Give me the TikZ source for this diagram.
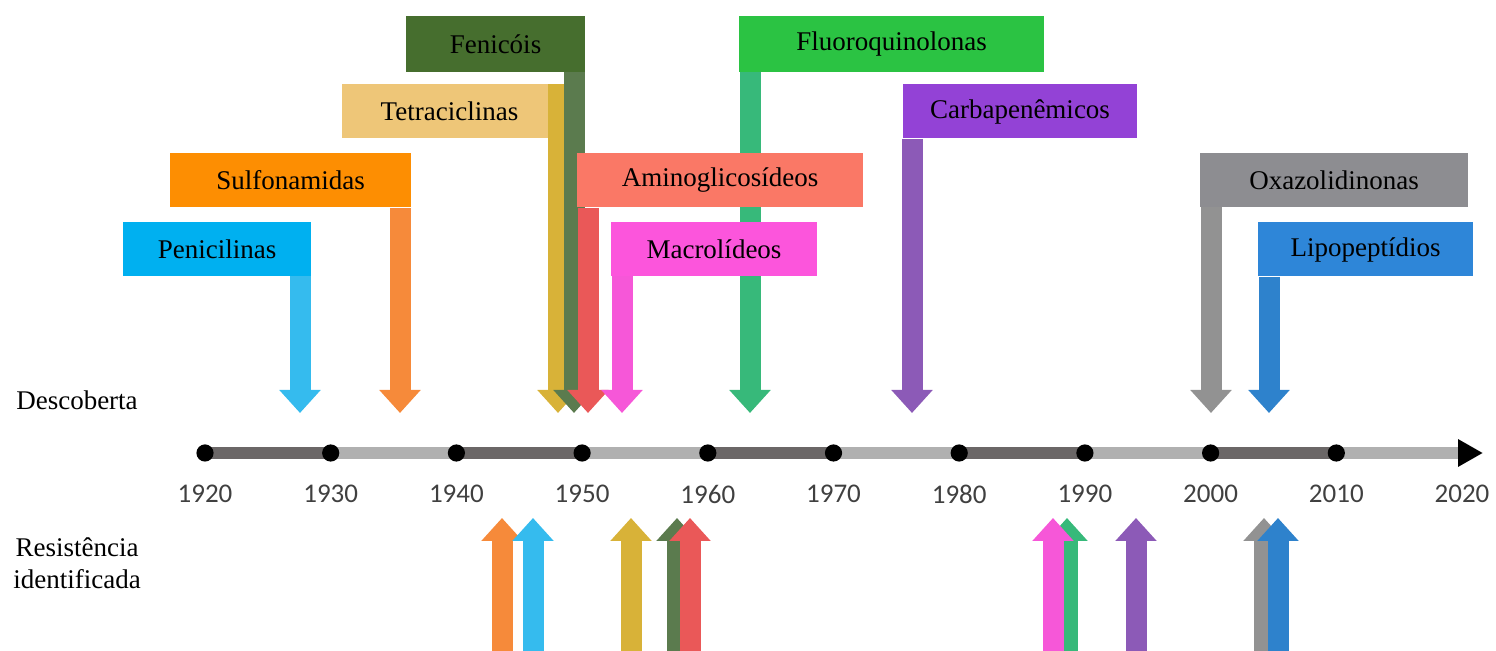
\documentclass[tikz,border=0pt]{standalone}
\usepackage{fontspec}
\setmainfont{Liberation Serif}
\newfontfamily\anofont{Carlito}
\usetikzlibrary{arrows.meta}

% cores: caixa (B) e seta (S)
\definecolor{penB}{HTML}{00B0F0}\definecolor{penS}{HTML}{35BBEE}
\definecolor{sulB}{HTML}{FD8E02}\definecolor{sulS}{HTML}{F68A3A}
\definecolor{tetB}{HTML}{EEC678}\definecolor{tetS}{HTML}{D8B238}
\definecolor{fenB}{HTML}{466E2E}\definecolor{fenS}{HTML}{5B7B4E}
\definecolor{amiB}{HTML}{FA7866}\definecolor{amiS}{HTML}{EA5858}
\definecolor{macB}{HTML}{FC55DC}\definecolor{macS}{HTML}{F657D8}
\definecolor{fluB}{HTML}{2BC343}\definecolor{fluS}{HTML}{37B97A}
\definecolor{carB}{HTML}{9342D6}\definecolor{carS}{HTML}{8C5AB7}
\definecolor{oxaB}{HTML}{8D8D91}\definecolor{oxaS}{HTML}{929292}
\definecolor{lipB}{HTML}{2E86D8}\definecolor{lipS}{HTML}{2E82CC}
\definecolor{eixoE}{HTML}{6B6767}\definecolor{eixoC}{HTML}{B0B0B0}
\definecolor{anoC}{HTML}{404040}

\begin{document}
\begin{tikzpicture}[x=0.5pt,y=-0.5pt,
		caixa/.style={inner sep=0pt, minimum height=27pt, text=black, font=\fontsize{13.5}{16}\selectfont},
		seta/.style={line width=10.5pt, -{Triangle[width=20pt,length=11.5pt]}},
		ano/.style={font=\anofont\fontsize{13.5}{16}\selectfont, text=anoC},
		rotulo/.style={font=\fontsize{13.5}{16}\selectfont, align=center}]
	\useasboundingbox (0,0) rectangle (1496,651);
	
	% eixo do tempo
	\coordinate (ini) at (205,453);
	\coordinate (fim) at (1483,453);
	\draw[line width=6pt, eixoC, -{Triangle[width=13pt,length=12.5pt,color=black]}] (ini) -- (fim);
	\foreach \a [evaluate=\a as \x using 205+(\a-1920)*12.57] in {1920,1940,...,2000} {
		\draw[line width=6pt, eixoE] (\x,453) -- ++(125.7,0);
	}
	\foreach \a [evaluate=\a as \x using 205+(\a-1920)*12.57] in {1920,1930,...,2010} {
		\fill[black] (\x,453) circle (4.3pt);
	}
	\foreach \a [evaluate=\a as \x using 205+(\a-1920)*12.57] in {1920,1930,...,2020} {
		\node[ano] (a\a) at (\x,494) {\a};
	}
	
	\node[rotulo] (desc) at (77,400) {Descoberta};
	\node[rotulo] (resi) at (77,563) {Resistência\\identificada};
	
	% pontas das setas de descoberta
	\coordinate (dpen) at (300,413);
	\coordinate (dsul) at (400,413);
	\coordinate (dtet) at (558,413);
	\coordinate (dfen) at (574,413);
	\coordinate (dami) at (588,413);
	\coordinate (dmac) at (622,413);
	\coordinate (dflu) at (750,413);
	\coordinate (dcar) at (912,413);
	\coordinate (doxa) at (1211,413);
	\coordinate (dlip) at (1269,413);
	
	\node[caixa, fill=penB, minimum width=94pt] (pen) at (217,249) {Penicilinas};
	\draw[seta, penS] (dpen |- pen.south) -- (dpen);
	\node[caixa, fill=sulB, minimum width=120.5pt] (sul) at (290.5,180.5) {Sulfonamidas};
	\draw[seta, sulS] (dsul |- sul.south) -- (dsul);
	\node[caixa, fill=tetB, minimum width=107.5pt] (tet) at (449.5,111) {Tetraciclinas};
	\draw[seta, tetS] (dtet |- tet.north) -- (dtet);
	\node[caixa, fill=fenB, minimum width=89.5pt, minimum height=28pt] (fen) at (495.5,44) {Fenicóis};
	\draw[seta, fenS] (dfen |- fen.south) -- (dfen);
	\node[caixa, fill=fluB, minimum width=152.5pt, minimum height=28pt] (flu) at (891.5,44) {Fluoroquinolonas};
	\draw[seta, fluS] (dflu |- flu.south) -- (dflu);
	\node[caixa, fill=amiB, minimum width=143pt] (ami) at (720,180.5) {Aminoglicosídeos};
	\draw[seta, amiS] (dami |- ami.south) -- (dami);
	\node[caixa, fill=macB, minimum width=103pt] (mac) at (714,249) {Macrolídeos};
	\draw[seta, macS] (dmac |- mac.south) -- (dmac);
	\node[caixa, fill=carB, minimum width=117pt] (car) at (1020,111.5) {Carbapenêmicos};
	\draw[seta, carS] (dcar |- car.south) -- (dcar);
	\node[caixa, fill=oxaB, minimum width=134pt] (oxa) at (1334,180) {Oxazolidinonas};
	\draw[seta, oxaS] (doxa |- oxa.south) -- (doxa);
	\node[caixa, fill=lipB, minimum width=107.5pt] (lip) at (1365.5,249.5) {Lipopeptídios};
	\draw[seta, lipS] (dlip |- lip.south) -- (dlip);
	
	% setas de resistencia
	\coordinate (base) at (0,651);
	\foreach \n/\x/\c in {sul/502/sulS, pen/533/penS, tet/631/tetS, fen/677/fenS, ami/690/amiS,
		flu/1067/fluS, mac/1053/macS, car/1136/carS, oxa/1264/oxaS, lip/1278/lipS} {
		\coordinate (r\n) at (\x,518);
		\draw[seta, \c] (r\n |- base) -- (r\n);
	}
\end{tikzpicture}
\end{document}
